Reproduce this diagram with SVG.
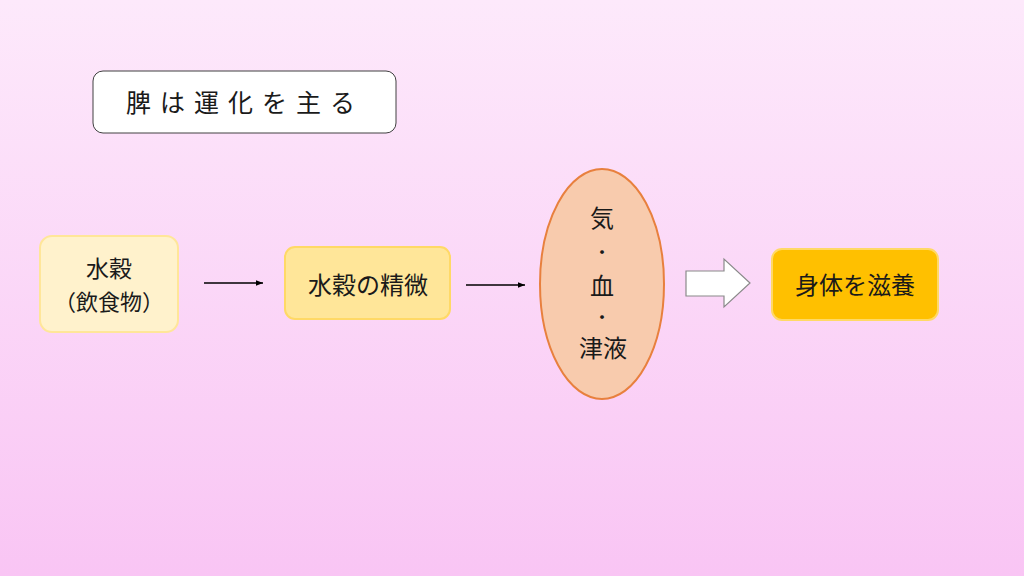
<svg xmlns="http://www.w3.org/2000/svg" width="1024" height="576" viewBox="0 0 1024 576">
<defs>
<linearGradient id="bg" x1="0" y1="0" x2="0" y2="1">
<stop offset="0" stop-color="#fde9fb"/>
<stop offset="1" stop-color="#f9c5f4"/>
</linearGradient>
<marker id="ah" viewBox="0 0 10 10" refX="10" refY="5" markerWidth="7" markerHeight="7" orient="auto" markerUnits="userSpaceOnUse">
<path d="M0,1 L10,5 L0,9 Z" fill="#000"/>
</marker>
<style>
text{font-family:"Noto Sans CJK JP","Noto Sans CJK SC",sans-serif;fill:#1a1a1a;text-anchor:middle}
.t{font-size:24px}
.d{font-size:18px}
.conn{stroke:#000;stroke-width:1.6;fill:none}
</style>
</defs>
<rect width="1024" height="576" fill="url(#bg)"/>
<g id="title">
<rect x="93" y="71" width="303" height="62" rx="10" fill="#fff" stroke="#404040" stroke-width="1"/>
<text x="245" y="112" font-size="25" letter-spacing="9">脾は運化を主る</text>
</g>
<g id="n1">
<rect x="40" y="236" width="138" height="96" rx="12" fill="#fff2cc" stroke="#ffe699" stroke-width="2"/>
<text x="109" y="277" font-size="23">水穀</text>
<text x="109" y="310" font-size="22">（飲食物）</text>
</g>
<g id="n2">
<rect x="285" y="247" width="165" height="72" rx="10" fill="#ffe699" stroke="#ffd966" stroke-width="2"/>
<text class="t" x="368" y="294">水穀の精微</text>
</g>
<g id="n3">
<ellipse cx="602" cy="284" rx="62" ry="115" fill="#f8cbad" stroke="#e8803e" stroke-width="2"/>
<text class="t" x="602" y="227">気</text>
<text class="d" x="602" y="259">・</text>
<text class="t" x="602" y="295">血</text>
<text class="d" x="602" y="324">・</text>
<text class="t" x="603" y="357">津液</text>
</g>
<g id="n4">
<rect x="772" y="249" width="166" height="71" rx="10" fill="#ffc000" stroke="#ffd966" stroke-width="2"/>
<text class="t" x="855" y="294">身体を滋養</text>
</g>
<g id="connectors">
<line class="conn" x1="204" y1="283" x2="263" y2="283" marker-end="url(#ah)"/>
<line class="conn" x1="466" y1="285" x2="525" y2="285" marker-end="url(#ah)"/>
<path d="M686,271 L724,271 L724,259 L750,283 L724,307 L724,296 L686,296 Z" fill="#fff" stroke="#8a8a8a" stroke-width="1.2"/>
</g>
</svg>
